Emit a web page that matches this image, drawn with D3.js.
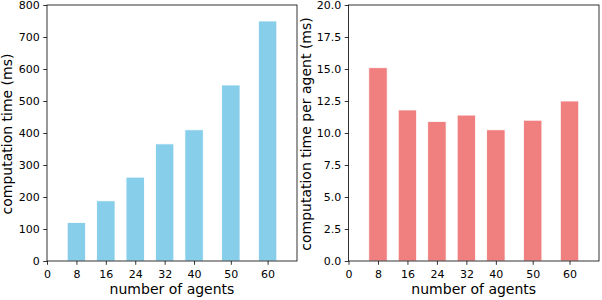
<!DOCTYPE html>
<html>
<head>
<meta charset="utf-8">
<script src="https://cdn.jsdelivr.net/npm/d3@7"></script>
<style>
body{margin:0;background:#fff}
svg text{font-family:"DejaVu Sans",sans-serif;fill:#000}
</style>
</head>
<body>
<div id="chart"></div>
<script>

const agents = [8, 16, 24, 32, 40, 50, 60]
const totalTime = [120, 188, 262, 366, 410, 550, 750]
const perAgentTime = [15.1, 11.8, 10.9, 11.4, 10.25, 11.0, 12.5]
const xTicks = [0, 8, 16, 24, 32, 40, 50, 60]
const leftYTicks = [0, 100, 200, 300, 400, 500, 600, 700, 800]
const rightYTicks = [0, 2.5, 5, 7.5, 10, 12.5, 15, 17.5, 20]

const svg = d3.select("#chart")
.append("svg")
.attr("width", 602)
.attr("height", 300)

function panel(opts){

const x = d3.scaleLinear().domain([0, 68]).range([opts.left, opts.right])
const y = d3.scaleLinear().domain(opts.ydomain).range([261, 5])

const g = svg.append("g")

g.selectAll("rect")
.data(opts.values)
.enter()
.append("rect")
.attr("x", (d,i)=>x(agents[i]-2.5))
.attr("width", x(5)-x(0))
.attr("y", d=>y(d))
.attr("height", d=>y(0)-y(d))
.attr("fill", opts.color)
.attr("stroke", "white")
.attr("stroke-width", 0.8)

g.append("g")
.attr("transform", "translate(0,261)")
.call(d3.axisBottom(x).tickValues(xTicks).tickSize(3.8).tickPadding(5.5))

g.append("g")
.attr("transform", `translate(${opts.left},0)`)
.call(d3.axisLeft(y).tickValues(opts.yticks).tickSize(3.8).tickPadding(3.5).tickFormat(opts.fmt))

g.append("rect")
.attr("x", opts.left)
.attr("y", 5)
.attr("width", opts.right-opts.left)
.attr("height", 256)
.attr("fill", "none")
.attr("stroke", "#000")
.attr("stroke-width", 0.8)

g.selectAll(".domain").remove()
g.selectAll(".tick line").attr("stroke", "#000").attr("stroke-width", 0.8)
g.selectAll(".tick text").attr("font-size", "11px").attr("font-family", "DejaVu Sans")

g.append("text")
.attr("x", (opts.left+opts.right)/2)
.attr("y", 294)
.attr("text-anchor", "middle")
.attr("font-size", "14px")
.text("number of agents")

g.append("text")
.attr("transform", `translate(${opts.labelX},134) rotate(-90)`)
.attr("text-anchor", "middle")
.attr("font-size", "14px")
.text(opts.ylabel)
}

panel({
left: 47, right: 297,
ydomain: [0, 800], yticks: leftYTicks, fmt: d3.format("d"),
values: totalTime, color: "#87ceeb",
ylabel: "computation time (ms)", labelX: 11.5
})

panel({
left: 348.5, right: 599,
ydomain: [0, 20], yticks: rightYTicks, fmt: d3.format(".1f"),
values: perAgentTime, color: "#f08080",
ylabel: "computation time per agent (ms)", labelX: 311
})

</script>
</body>
</html>
